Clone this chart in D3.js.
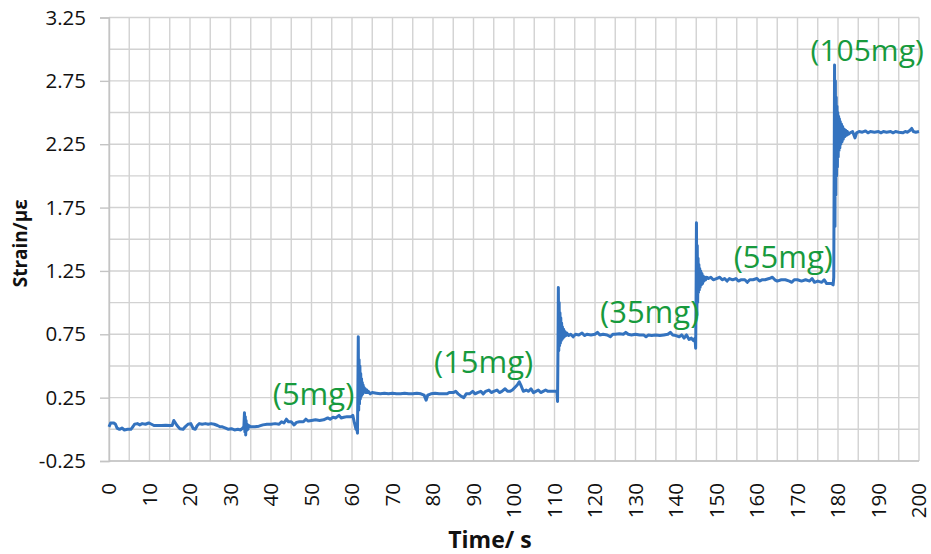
<!DOCTYPE html>
<html>
<head>
<meta charset="utf-8">
<script src="https://cdn.jsdelivr.net/npm/d3@7"></script>
<style>
  html, body { margin: 0; padding: 0; background: #fff; }
  svg { display: block; }
  text { font-family: "Open Sans", "Liberation Sans", sans-serif; }
</style>
</head>
<body>
<svg id="chart" width="931" height="554"></svg>
<script>
// Strain readings [time s, strain με], one array per loading stage
const stageUnloaded = [
  [0,0.02],[0.4,0.05],[1.2,0.05],[1.6,0.04],[2,0.01],[2.6,0.0],[3.2,0.01],[3.8,-0.005],[4.6,0.0],[5.4,0.0],
  [5.9,0.02],[6.3,0.04],[7,0.045],[7.6,0.035],[8.2,0.045],[9,0.04],[9.8,0.05],[10.5,0.04],[11.1,0.03],[12,0.03],
  [13,0.03],[14,0.032],[15,0.03],[15.6,0.03],[16,0.07],[16.4,0.05],[16.8,0.03],[17.5,0.005],[18.3,0.0],[18.8,0.02],
  [19.5,0.04],[20.2,0.045],[20.8,0.005],[21.3,0.0],[21.8,0.03],[22.3,0.045],[23,0.04],[23.8,0.045],[24.5,0.04],
  [25.2,0.045],[26,0.04],[26.8,0.03],[27.4,0.02],[28,0.02],[28.8,0.01],[29.5,0.0],[30.2,0.005],[31,-0.005],
  [31.8,0.0],[32.5,-0.005],[33,0.01],
  [33.3,0.02],[33.45,0.13],[33.55,-0.02],[33.65,0.1],[33.75,-0.045],[33.85,0.07],[33.95,-0.01],[34.1,0.04],
  [34.3,0.0],[34.5,0.03],
  [35,0.02],[36,0.02],[37,0.025],[38,0.035],[39,0.04],[40,0.04],[41,0.045],[42,0.04],[42.6,0.06],[43.2,0.05],
  [43.8,0.08],[44.3,0.06],[45,0.06],[45.7,0.035],[46.3,0.055],[47,0.06],[48,0.06],[48.6,0.08],[49.2,0.065],
  [50,0.07],[51,0.075],[52,0.07],[53,0.075],[54,0.09],[54.6,0.08],[55.3,0.095],[56,0.09],[56.8,0.11],[57.3,0.09],
  [58,0.095],[58.8,0.1],[59.4,0.1],[59.8,0.1],[60.2,0.11],[60.6,0.05],[61,0.0]
];
const stage15 = [
  [61.2,0.01],[61.35,-0.03],[61.45,0.3],[61.55,0.73],[61.65,0.15],[61.75,0.55],[61.85,0.2],[61.95,0.5],
  [62.05,0.24],[62.15,0.44],[62.25,0.26],[62.35,0.4],[62.45,0.27],[62.55,0.37],[62.65,0.28],[62.75,0.35],
  [62.85,0.29],[62.95,0.33],[63.1,0.3],[63.25,0.32],[63.4,0.29],[63.6,0.31],[63.8,0.29],[64,0.3],
  [64.5,0.28],[65,0.29],[66,0.285],[67,0.28],[68,0.285],[69,0.28],[70,0.285],[71,0.28],[72,0.28],[73,0.285],
  [74,0.28],[75,0.28],[76,0.285],[77,0.28],[77.8,0.27],[78.3,0.23],[78.7,0.27],[79.5,0.28],[80.5,0.285],
  [81.5,0.28],[82.5,0.28],[83.5,0.28],[84,0.29],[85,0.29],[85.6,0.3],[86.2,0.28],[87,0.26],[87.6,0.25],
  [88.2,0.28],[89,0.28],[89.8,0.3],[90.4,0.28],[91,0.29],[91.8,0.3],[92.4,0.28],[93,0.3],[93.8,0.31],
  [94.4,0.29],[95,0.3],[95.8,0.31],[96.4,0.29],[97,0.3],[97.8,0.32],[98.4,0.3],[99,0.3],[99.6,0.31],
  [100.2,0.33],[100.8,0.35],[101.3,0.375],[101.8,0.34],[102.3,0.3],[103,0.31],[103.6,0.3],[104.2,0.32],
  [104.8,0.29],[105.4,0.3],[106,0.31],[106.6,0.29],[107.2,0.3],[107.8,0.31],[108.4,0.3],[109,0.3],
  [109.6,0.3],[110.3,0.3],[110.6,0.3]
];
const stage35 = [
  [110.75,0.22],[110.85,0.6],[110.95,1.12],[111.05,0.62],[111.15,1.0],[111.25,0.66],[111.35,0.92],
  [111.45,0.68],[111.55,0.88],[111.65,0.7],[111.75,0.84],[111.85,0.71],[111.95,0.81],[112.1,0.72],
  [112.25,0.79],[112.4,0.73],[112.6,0.77],[112.8,0.74],[113,0.76],
  [113.5,0.74],[114,0.75],[114.6,0.73],[115.2,0.75],[116,0.745],[116.8,0.76],[117.4,0.74],[118,0.75],
  [119,0.745],[120,0.75],[120.6,0.765],[121.2,0.745],[122,0.75],[123,0.745],[123.8,0.73],[124.4,0.75],
  [125,0.75],[126,0.755],[127,0.75],[127.6,0.765],[128.2,0.75],[129,0.745],[130,0.75],[131,0.745],
  [132,0.745],[132.6,0.73],[133.2,0.745],[134,0.74],[135,0.745],[136,0.74],[137,0.745],[138,0.75],
  [138.6,0.765],[139.2,0.745],[140,0.74],[140.8,0.73],[141.4,0.745],[142,0.72],[142.6,0.745],[143.2,0.71],
  [143.8,0.72],[144.3,0.7],[144.7,0.72]
];
const stage55 = [
  [144.85,0.64],[144.95,1.0],[145.05,1.63],[145.15,0.9],[145.25,1.45],[145.35,1.0],[145.45,1.35],
  [145.55,1.08],[145.65,1.3],[145.75,1.1],[145.85,1.27],[145.95,1.12],[146.1,1.25],[146.25,1.14],
  [146.4,1.23],[146.55,1.15],[146.7,1.21],[146.9,1.17],[147.1,1.2],[147.3,1.18],
  [147.6,1.2],[148,1.19],[148.6,1.2],[149.2,1.18],[150,1.19],[150.8,1.2],[151.4,1.18],[152,1.19],[152.6,1.17],
  [153.2,1.19],[154,1.18],[154.8,1.19],[155.4,1.17],[156,1.18],[157,1.18],[157.6,1.16],[158.2,1.18],[159,1.18],
  [160,1.19],[160.6,1.17],[161.2,1.18],[162,1.18],[163,1.19],[163.8,1.2],[164.4,1.18],[165,1.17],[166,1.18],
  [167,1.18],[168,1.17],[168.6,1.16],[169.2,1.18],[170,1.18],[171,1.17],[172,1.18],[173,1.17],[173.6,1.19],
  [174.2,1.16],[175,1.17],[176,1.16],[176.6,1.18],[177.2,1.15],[177.8,1.15],[178.4,1.15],[178.8,1.14]
];
const stage105 = [
  [178.95,1.2],[179.05,2.0],[179.15,2.875],[179.25,1.6],[179.35,2.75],[179.45,1.85],[179.55,2.62],
  [179.65,2.0],[179.75,2.55],[179.85,2.07],[179.95,2.5],[180.05,2.15],[180.15,2.47],[180.25,2.2],
  [180.35,2.45],[180.45,2.22],[180.55,2.43],[180.7,2.25],[180.85,2.41],[181,2.27],[181.15,2.39],
  [181.3,2.29],[181.5,2.37],[181.7,2.31],[181.9,2.36],[182.1,2.32],[182.3,2.35],
  [182.6,2.33],[183,2.34],[183.6,2.35],[184.2,2.3],[184.6,2.34],[185.2,2.35],[186,2.345],[186.8,2.355],
  [187.4,2.34],[188,2.35],[189,2.345],[190,2.35],[190.6,2.34],[191.2,2.35],[192,2.345],[193,2.35],
  [193.6,2.34],[194.2,2.35],[195,2.345],[196,2.34],[196.6,2.35],[197.2,2.345],[197.8,2.36],[198.2,2.375],
  [198.6,2.35],[199.2,2.345],[200,2.35]
];

// Load annotations: text and the [time, strain] point each one sits at
const loadLabels = ["(5mg)", "(15mg)", "(35mg)", "(55mg)", "(105mg)"];
const loadLabelAt = [[50.5, 0.195], [92.5, 0.445], [133.5, 0.84], [166.5, 1.27], [187.2, 2.91]];

// Axis ticks
const timeTicks = d3.range(0, 201, 10);
const timeGrid = d3.range(0, 201, 5);
const strainTicks = [-0.25, 0.25, 0.75, 1.25, 1.75, 2.25, 2.75, 3.25];
const strainGrid = d3.range(-0.25, 3.2501, 0.25);

const svg = d3.select("#chart");
const x = d3.scaleLinear().domain([0, 200]).range([109, 919]);
const y = d3.scaleLinear().domain([-0.25, 3.25]).range([461, 17.5]);

// grid
const grid = svg.append("g").attr("stroke", "#d2d2d2").attr("stroke-width", 1.4);
grid.selectAll("line.v").data(timeGrid).join("line")
  .attr("class", "v")
  .attr("x1", d => x(d)).attr("x2", d => x(d))
  .attr("y1", y(3.25)).attr("y2", y(-0.25));
grid.selectAll("line.h").data(strainGrid).join("line")
  .attr("class", "h")
  .attr("x1", x(0)).attr("x2", x(200))
  .attr("y1", d => y(d)).attr("y2", d => y(d));

// y axis (plain hyphen for negatives)
const fmt = d3.format(".2f");
const yAxis = svg.append("g")
  .attr("transform", `translate(${x(0)},0)`)
  .call(d3.axisLeft(y).tickValues(strainTicks).tickSize(9).tickPadding(14)
    .tickFormat(d => fmt(d).replace("\u2212", "-")));
yAxis.select(".domain").attr("stroke", "#c4c4c4").attr("stroke-width", 1.4);
yAxis.selectAll(".tick line").attr("stroke", "#c4c4c4").attr("stroke-width", 1.4);
yAxis.selectAll(".tick text")
  .attr("font-family", '"Open Sans", sans-serif')
  .attr("font-size", 20.5).attr("fill", "#111");

// x axis line and rotated labels
svg.append("line")
  .attr("x1", x(0)).attr("x2", x(200))
  .attr("y1", y(-0.25)).attr("y2", y(-0.25))
  .attr("stroke", "#c4c4c4").attr("stroke-width", 1.4);
svg.append("g").selectAll("text").data(timeTicks).join("text")
  .attr("transform", d => `translate(${x(d) + 7},${y(-0.25) + 22}) rotate(-90)`)
  .attr("text-anchor", "end")
  .attr("font-size", 20.5).attr("fill", "#111")
  .text(d => d);

// axis titles
svg.append("text")
  .attr("transform", `translate(27,${(y(3.25) + y(-0.25)) / 2 + 4}) rotate(-90)`)
  .attr("text-anchor", "middle")
  .attr("font-size", 19).attr("font-weight", "bold").attr("fill", "#111")
  .text("Strain/με");
svg.append("text")
  .attr("x", 490).attr("y", 548)
  .attr("text-anchor", "middle")
  .attr("font-size", 23).attr("font-weight", "bold").attr("fill", "#111")
  .text("Time/ s");

// strain trace
const readings = [].concat(stageUnloaded, stage15, stage35, stage55, stage105);
const line = d3.line().x(d => x(d[0])).y(d => y(d[1]));
svg.append("path")
  .datum(readings)
  .attr("d", line)
  .attr("fill", "none")
  .attr("stroke", "#3473bf")
  .attr("stroke-width", 3)
  .attr("stroke-linejoin", "round");

// load annotations
svg.append("g").selectAll("text").data(loadLabels).join("text")
  .attr("x", (d, i) => x(loadLabelAt[i][0]))
  .attr("y", (d, i) => y(loadLabelAt[i][1]))
  .attr("text-anchor", "middle")
  .attr("font-size", (d, i) => i === 4 ? 30 : 31).attr("fill", "#179a3d")
  .text(d => d);
</script>
</body>
</html>
